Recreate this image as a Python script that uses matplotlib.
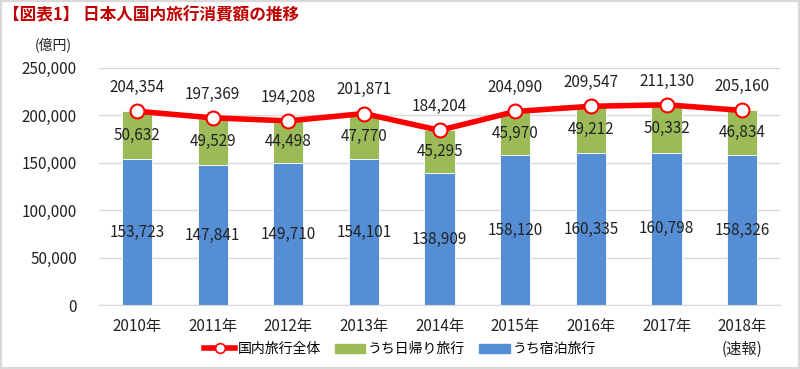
import matplotlib

matplotlib.use("Agg")
import matplotlib.pyplot as plt
from matplotlib.lines import Line2D
from matplotlib.patches import Patch, Rectangle

plt.rcParams["font.family"] = ["Noto Sans CJK JP", "DejaVu Sans"]

YEARS = ["2010年", "2011年", "2012年", "2013年", "2014年", "2015年", "2016年", "2017年", "2018年\n(速報)"]
STAY = [153723, 147841, 149710, 154101, 138909, 158120, 160335, 160798, 158326]
DAYTRIP = [50632, 49529, 44498, 47770, 45295, 45970, 49212, 50332, 46834]
TOTAL = [204354, 197369, 194208, 201871, 184204, 204090, 209547, 211130, 205160]

BLUE = "#558ED5"
GREEN = "#9BBB59"
RED = "#FF0000"

fig = plt.figure(figsize=(8, 3.69), dpi=100)
ax = fig.add_axes([0.124, 0.173, 0.851, 0.643])

x = list(range(len(YEARS)))
ax.bar(x, STAY, width=0.4, color=BLUE, edgecolor="white", linewidth=0.6, zorder=2)
ax.bar(x, DAYTRIP, bottom=STAY, width=0.4, color=GREEN, edgecolor="white", linewidth=0.6, zorder=2)
ax.plot(x, TOTAL, color=RED, lw=4, marker="o", ms=10, mfc="white", mec=RED, mew=1.5, zorder=3)

for i in x:
    ax.text(i, STAY[i] / 2, f"{STAY[i]:,}", ha="center", va="center", fontsize=11, color="#222222", zorder=4)
    ax.text(i, STAY[i] + DAYTRIP[i] / 2, f"{DAYTRIP[i]:,}", ha="center", va="center", fontsize=11,
            color="#222222", zorder=4)
    ax.annotate(f"{TOTAL[i]:,}", (i, TOTAL[i]), xytext=(0, 17), textcoords="offset points",
                ha="center", va="center", fontsize=11, color="#222222", zorder=4)

ax.set_xlim(-0.5, len(YEARS) - 0.5)
ax.set_ylim(0, 250000)
ax.set_yticks(range(0, 250001, 50000))
ax.set_yticklabels([f"{v:,}" for v in range(0, 250001, 50000)], fontsize=11, color="#222222")
ax.set_xticks(x)
ax.set_xticklabels(YEARS, fontsize=11, color="#222222", va="top", linespacing=1.5)
ax.tick_params(axis="x", length=0, pad=9)
ax.tick_params(axis="y", length=0, pad=16)
ax.yaxis.grid(True, color="#D9D9D9", lw=1, zorder=0)
ax.set_axisbelow(True)
for s in ("top", "right", "left"):
    ax.spines[s].set_visible(False)
ax.spines["bottom"].set_color("#D9D9D9")

fig.text(0.004, 0.958, "【図表1】 日本人国内旅行消費額の推移", fontsize=12, fontweight="bold", color="#C00000",
         va="center", ha="left")
fig.text(0.044, 0.88, "(億円)", fontsize=10, color="#222222", va="center", ha="left")

handles = [
    Line2D([], [], color=RED, lw=4, marker="o", ms=7, mfc="white", mec=RED, mew=1.2),
    Patch(color=GREEN),
    Patch(color=BLUE),
]
fig.legend(handles, ["国内旅行全体", "うち日帰り旅行", "うち宿泊旅行"], loc="center", bbox_to_anchor=(0.5, 0.054),
           ncol=3, frameon=False, fontsize=10, handlelength=2.2, handleheight=0.6, columnspacing=1.0,
           handletextpad=0.2)

fig.patches.append(Rectangle((0, 0), 1, 1, transform=fig.transFigure, fill=False, edgecolor="#D9D9D9", lw=3))

fig.savefig("out.png", dpi=100)
